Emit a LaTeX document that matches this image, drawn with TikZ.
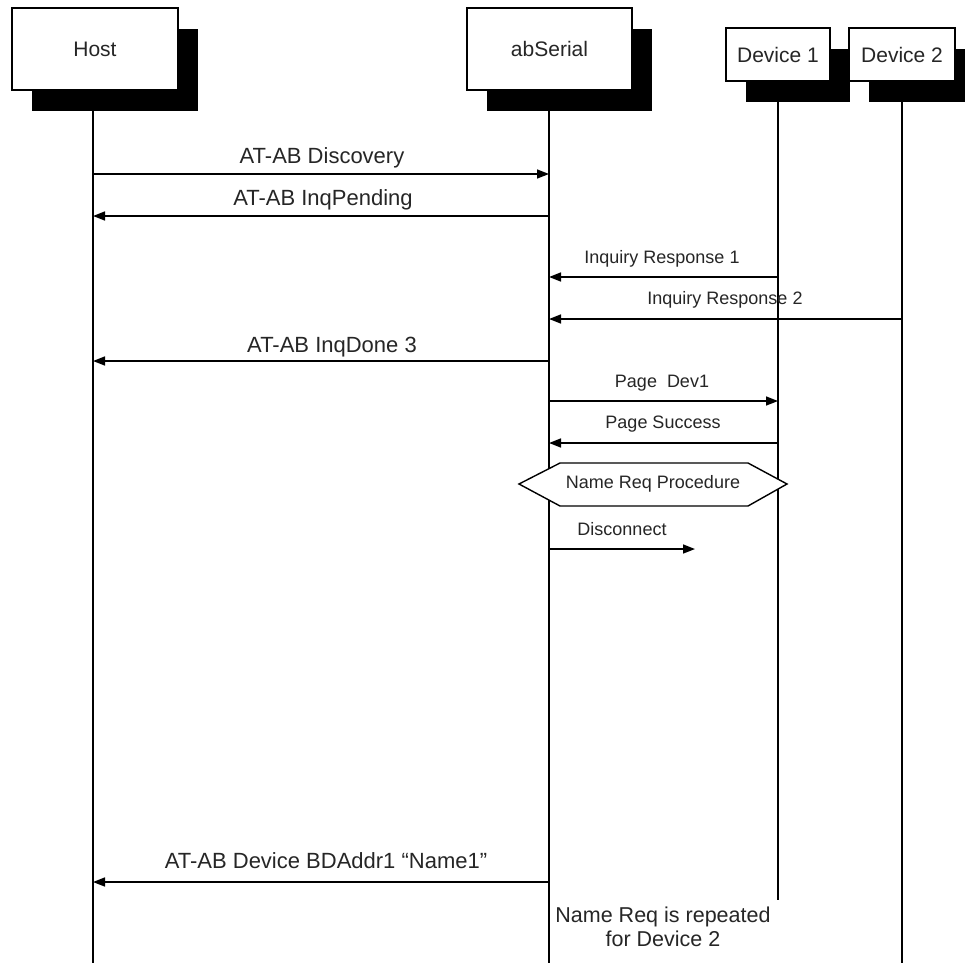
\documentclass[tikz,border=0pt]{standalone}
\usepackage{fontspec}
\setmainfont{Liberation Sans}
\usetikzlibrary{arrows.meta,shadows}
\begin{document}
\begin{tikzpicture}[x=1pt,y=-1pt,
  big/.style={font=\fontsize{21}{25}\selectfont, text=black!85},
  msgbig/.style={font=\fontsize{22}{26}\selectfont, text=black!85},
  small/.style={font=\fontsize{18}{22}\selectfont, text=black!85},
  objbox/.style={draw=black, line width=1.6pt, fill=white, inner sep=0pt,
    drop shadow={shadow xshift=20pt, shadow yshift=-21pt, fill=black, opacity=1}},
  life/.style={line width=1.6pt, draw=black},
  msg/.style={line width=1.6pt, draw=black, -{Triangle[length=12pt,width=9pt]}},
  lbl/.style={anchor=base, inner sep=0pt}]
\useasboundingbox (0,0) rectangle (965,963);
\fill[white] (0,0) rectangle (965,963);
% lifeline ends
\coordinate (hostb) at (93,963);
\coordinate (serb) at (549,963);
\coordinate (dev1b) at (778,900);
\coordinate (dev2b) at (902,963);
\draw[life] (93,100) -- (hostb);
\draw[life] (549,100) -- (serb);
\draw[life] (778,90) -- (dev1b);
\draw[life] (902,90) -- (dev2b);
% participants
\node[objbox, big, minimum width=166pt, minimum height=82pt] (host) at (95,49) {Host};
\node[objbox, big, minimum width=165pt, minimum height=82pt] (ser) at (549.5,49) {abSerial};
\node[objbox, big, minimum width=104pt, minimum height=53pt] (dev1) at (778,54.5) {Device 1};
\node[objbox, big, minimum width=106pt, minimum height=53pt] (dev2) at (902,54.5) {Device 2};
% messages
\draw[msg] (hostb |- 0,174) -- (serb |- 0,174);
\node[lbl, msgbig] (m1) at (322,163) {AT-AB Discovery};
\draw[msg] (serb |- 0,216) -- (hostb |- 0,216);
\node[lbl, msgbig] (m2) at (323,205) {AT-AB InqPending};
\draw[msg] (dev1b |- 0,277) -- (serb |- 0,277);
\node[lbl, small] (m3) at (662,263) {Inquiry Response 1};
\draw[msg] (dev2b |- 0,319) -- (serb |- 0,319);
\node[lbl, small] (m4) at (725,304) {Inquiry Response 2};
\draw[msg] (serb |- 0,361) -- (hostb |- 0,361);
\node[lbl, msgbig] (m5) at (332,352) {AT-AB InqDone 3};
\draw[msg] (serb |- 0,401) -- (dev1b |- 0,401);
\node[lbl, small] (m6) at (662,387) {Page\ \ Dev1};
\draw[msg] (dev1b |- 0,443) -- (serb |- 0,443);
\node[lbl, small] (m7) at (663,428) {Page Success};
% hexagon
\draw[line width=1.4pt, fill=white] (519,484) -- (560,463) -- (748,463) -- (787,484) -- (748,506) -- (560,506) -- cycle;
\node[small, inner sep=0pt] (nrp) at (653,484) {Name Req Procedure};
% disconnect
\coordinate (discend) at (695,549);
\draw[msg] (serb |- discend) -- (discend);
\node[lbl, small] (m8) at (622,535) {Disconnect};
% device name
\draw[msg] (serb |- 0,882) -- (hostb |- 0,882);
\node[lbl, msgbig] (m9) at (326,868) {AT-AB Device BDAddr1 “Name1”};
% note
\node[font=\fontsize{21.5}{25}\selectfont, text=black!85, align=center, inner sep=0pt, anchor=north] (note) at (663,907) {Name Req is repeated\\[-1pt]for Device 2};
\end{tikzpicture}
\end{document}
